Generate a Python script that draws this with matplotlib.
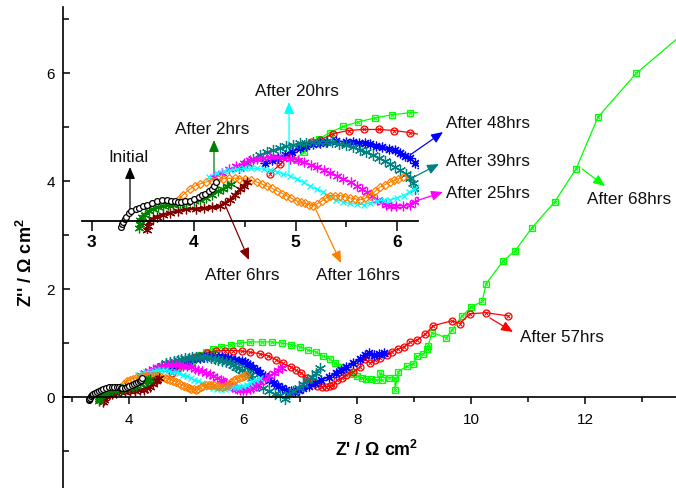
import matplotlib.pyplot as plt

plt.rcParams['font.family'] = ['Liberation Sans', 'DejaVu Sans']
plt.rcParams['mathtext.fontset'] = 'custom'
plt.rcParams['mathtext.rm'] = 'Liberation Sans'
plt.rcParams['mathtext.bf'] = 'Liberation Sans:bold'

# Nyquist data, Z' and -Z'' in ohm cm2
zre_0h = [3.29, 3.30, 3.31, 3.33, 3.34, 3.37, 3.39, 3.43, 3.46, 3.50, 3.54, 3.59, 3.64, 3.69, 3.74,
          3.78, 3.82, 3.85, 3.88, 3.92, 3.96, 4.00, 4.05, 4.08, 4.11, 4.15, 4.18, 4.20, 4.22]
zim_0h = [-0.055, -0.03, -0.007, 0.02, 0.04, 0.07, 0.09, 0.11, 0.12, 0.14, 0.155, 0.17, 0.19, 0.20, 0.20,
          0.19, 0.19, 0.18, 0.18, 0.185, 0.19, 0.21, 0.23, 0.245, 0.26, 0.28, 0.30, 0.33, 0.37]

zre_2h = [3.46, 3.47, 3.47, 3.49, 3.52, 3.56, 3.60, 3.65, 3.70, 3.75, 3.80, 3.87, 3.93, 4.00, 4.06,
          4.12, 4.18, 4.24, 4.29, 4.33, 4.37]
zim_2h = [-0.07, -0.03, 0.01, 0.04, 0.06, 0.09, 0.11, 0.13, 0.14, 0.15, 0.155, 0.16, 0.17, 0.185, 0.20,
          0.22, 0.25, 0.28, 0.30, 0.33, 0.35]

zre_6h = [3.54, 3.55, 3.56, 3.60, 3.64, 3.70, 3.77, 3.85, 3.93, 4.02, 4.10, 4.18, 4.26, 4.31, 4.36,
          4.41, 4.46, 4.49, 4.52]
zim_6h = [-0.09, -0.05, -0.01, 0.02, 0.04, 0.06, 0.075, 0.095, 0.11, 0.115, 0.12, 0.13, 0.14, 0.17, 0.20,
          0.25, 0.30, 0.33, 0.37]

zre_16h = [3.85, 3.90, 3.96, 4.01, 4.06, 4.12, 4.18, 4.24, 4.29, 4.35, 4.41, 4.45, 4.50, 4.56, 4.62,
           4.67, 4.72, 4.77, 4.82, 4.87, 4.91, 4.96, 5.01, 5.05, 5.09, 5.13, 5.17, 5.21, 5.26, 5.30,
           5.34, 5.39, 5.44, 5.49, 5.53, 5.58, 5.63, 5.68, 5.73, 5.78, 5.83, 5.88, 5.93, 5.97, 6.01, 6.05]
zim_16h = [0.20, 0.25, 0.30, 0.33, 0.35, 0.37, 0.38, 0.395, 0.40, 0.405, 0.405, 0.40, 0.40, 0.385, 0.37,
           0.35, 0.33, 0.31, 0.285, 0.26, 0.24, 0.215, 0.19, 0.175, 0.165, 0.155, 0.145, 0.16, 0.19, 0.215,
           0.24, 0.24, 0.24, 0.23, 0.22, 0.21, 0.20, 0.215, 0.24, 0.28, 0.32, 0.345, 0.37, 0.385, 0.40, 0.42]

zre_20h = [4.15, 4.23, 4.30, 4.36, 4.43, 4.49, 4.56, 4.62, 4.69, 4.75, 4.82, 4.88, 4.95, 5.01, 5.08,
           5.14, 5.21, 5.27, 5.34, 5.40, 5.47, 5.53, 5.60, 5.67, 5.73, 5.80, 5.87, 5.93, 6.00, 6.06,
           6.11, 6.16, 6.23, 6.30]
zim_20h = [0.42, 0.46, 0.47, 0.48, 0.49, 0.50, 0.50, 0.50, 0.49, 0.48, 0.465, 0.45, 0.425, 0.40, 0.365,
           0.33, 0.30, 0.27, 0.235, 0.20, 0.18, 0.165, 0.16, 0.155, 0.17, 0.19, 0.195, 0.20, 0.22, 0.24,
           0.27, 0.30, 0.33, 0.36]

zre_25h = [4.20, 4.28, 4.35, 4.42, 4.49, 4.55, 4.62, 4.68, 4.75, 4.82, 4.88, 4.95, 5.02, 5.08, 5.15,
           5.21, 5.28, 5.34, 5.41, 5.47, 5.54, 5.60, 5.65, 5.70, 5.75, 5.80, 5.85, 5.89, 5.94, 5.99,
           6.05, 6.12, 6.17, 6.22, 6.30, 6.38, 6.45, 6.53, 6.60, 6.68]
zim_25h = [0.42, 0.46, 0.49, 0.52, 0.55, 0.58, 0.59, 0.60, 0.605, 0.61, 0.60, 0.59, 0.575, 0.56, 0.535,
           0.51, 0.485, 0.46, 0.43, 0.40, 0.365, 0.33, 0.30, 0.27, 0.235, 0.20, 0.175, 0.155, 0.145, 0.14,
           0.145, 0.155, 0.18, 0.21, 0.28, 0.35, 0.40, 0.45, 0.50, 0.54]

zre_39h = [4.45, 4.52, 4.58, 4.65, 4.72, 4.78, 4.85, 4.91, 4.98, 5.04, 5.10, 5.17, 5.23, 5.30, 5.36,
           5.43, 5.50, 5.56, 5.63, 5.69, 5.76, 5.82, 5.88, 5.93, 5.98, 6.03, 6.08, 6.12, 6.15, 6.17,
           6.25, 6.35, 6.45, 6.55, 6.65, 6.73, 6.80, 6.88, 6.97, 7.05, 7.12, 7.20, 7.28, 7.35]
zim_39h = [0.50, 0.55, 0.59, 0.63, 0.655, 0.67, 0.69, 0.71, 0.725, 0.74, 0.745, 0.75, 0.755, 0.755, 0.75,
           0.735, 0.72, 0.70, 0.675, 0.655, 0.63, 0.60, 0.57, 0.54, 0.51, 0.48, 0.445, 0.41, 0.36, 0.30,
           0.24, 0.17, 0.12, 0.07, 0.04, -0.03, 0.06, 0.12, 0.18, 0.25, 0.32, 0.38, 0.45, 0.54]

zre_48h = [4.70, 4.77, 4.83, 4.90, 4.97, 5.04, 5.10, 5.17, 5.24, 5.31, 5.40, 5.50, 5.56, 5.62, 5.68,
           5.73, 5.79, 5.85, 5.92, 5.98, 6.03, 6.07, 6.12, 6.17, 6.24, 6.30, 6.38, 6.45, 6.53, 6.60,
           6.68, 6.75, 6.83, 6.90, 6.98, 7.05, 7.15, 7.25, 7.37, 7.50, 7.62, 7.72, 7.81, 7.93, 8.05,
           8.13, 8.21, 8.30, 8.38, 8.47]
zim_48h = [0.55, 0.58, 0.60, 0.63, 0.66, 0.69, 0.71, 0.73, 0.74, 0.75, 0.76, 0.755, 0.75, 0.745, 0.74,
           0.73, 0.715, 0.70, 0.685, 0.67, 0.65, 0.62, 0.60, 0.55, 0.50, 0.45, 0.39, 0.33, 0.27, 0.22,
           0.17, 0.14, 0.12, 0.11, 0.14, 0.17, 0.21, 0.26, 0.32, 0.38, 0.45, 0.51, 0.57, 0.64, 0.72,
           0.78, 0.82, 0.79, 0.80, 0.82]

zre_57h = [4.75, 4.85, 4.96, 5.06, 5.15, 5.24, 5.37, 5.52, 5.67, 5.82, 5.97, 6.12, 6.29, 6.44, 6.58,
           6.69, 6.83, 6.92, 7.02, 7.11, 7.20, 7.30, 7.38, 7.45, 7.52, 7.58, 7.64, 7.73, 7.81, 7.93,
           8.05, 8.13, 8.22, 8.31, 8.40, 8.52, 8.60, 8.72, 8.82, 8.92, 9.04, 9.19, 9.33, 9.66, 9.80,
           9.97, 10.26, 10.65]
zim_57h = [0.45, 0.54, 0.64, 0.71, 0.75, 0.77, 0.83, 0.86, 0.87, 0.87, 0.86, 0.84, 0.81, 0.77, 0.70,
           0.63, 0.57, 0.51, 0.45, 0.36, 0.28, 0.22, 0.20, 0.20, 0.21, 0.23, 0.32, 0.36, 0.42, 0.48,
           0.57, 0.72, 0.64, 0.69, 0.74, 0.79, 0.85, 0.90, 0.94, 1.02, 1.06, 1.17, 1.33, 1.42, 1.37,
           1.55, 1.57, 1.51]

zre_68h = [5.00, 5.08, 5.23, 5.34, 5.47, 5.61, 5.78, 5.95, 6.12, 6.32, 6.50, 6.67, 6.83, 6.99, 7.14,
           7.28, 7.40, 7.52, 7.61, 7.70, 7.78, 7.85, 7.92, 8.00, 8.08, 8.16, 8.24, 8.32, 8.43, 8.40,
           8.55, 8.66, 8.66, 8.72, 8.87, 8.98, 9.04, 9.16, 9.22, 9.24, 9.31, 9.56, 9.66, 9.83, 9.99,
           10.19, 10.26, 10.56, 10.77, 11.06, 11.46, 11.84, 12.22, 12.89, 13.95]
zim_68h = [0.58, 0.66, 0.78, 0.84, 0.90, 0.94, 0.98, 1.01, 1.03, 1.03, 1.03, 1.01, 0.98, 0.94, 0.88,
           0.84, 0.77, 0.71, 0.64, 0.57, 0.51, 0.47, 0.43, 0.40, 0.37, 0.35, 0.34, 0.33, 0.32, 0.45,
           0.37, 0.37, 0.14, 0.48, 0.58, 0.62, 0.76, 0.81, 0.90, 0.95, 1.20, 1.11, 1.25, 1.50, 1.67,
           1.78, 2.11, 2.53, 2.72, 3.14, 3.62, 4.24, 5.19, 6.00, 6.95]

# drawing order: latest first so the early spectra sit on top
series = [
    (zre_68h, zim_68h, '#00ff00', dict(marker='s', ms=4.5, mfc='none', lw=0.9), 'x'),
    (zre_57h, zim_57h, '#ff0000', dict(marker='o', ms=5, mfc='none', lw=0.9), 'x'),
    (zre_48h, zim_48h, '#0000ff', dict(marker=(8, 2, 0), ms=7, lw=0.9), None),
    (zre_39h, zim_39h, '#008080', dict(marker=(6, 2, 0), ms=8, lw=0.9), None),
    (zre_25h, zim_25h, '#ff00ff', dict(marker=(6, 2, 0), ms=7, lw=0.9), None),
    (zre_20h, zim_20h, '#00ffff', dict(marker='x', ms=5, lw=0.9), None),
    (zre_16h, zim_16h, '#ff8000', dict(marker='D', ms=4.5, mfc='none', lw=0.8), None),
    (zre_6h, zim_6h, '#800000', dict(marker=(6, 2, 0), ms=7, lw=2.0), None),
    (zre_2h, zim_2h, '#008000', dict(marker=(6, 2, 0), ms=7, lw=2.0), None),
    (zre_0h, zim_0h, 'black', dict(marker='o', ms=4.2, mfc='white', lw=1.0), None),
]


def draw(ax):
    for x, y, c, kw, inner in series:
        ax.plot(x, y, color=c, mec=c, mew=0.9, **kw)
        if inner:
            ax.plot(x, y, ls='none', marker=inner, ms=3, color=c, mew=0.7)


W, H = 676, 488
fig = plt.figure(figsize=(W / 100, H / 100), dpi=100)

# main axes
ax = fig.add_axes([63 / W, 0, 613 / W, 481 / H])
draw(ax)
ax.set_xlim(2.837, 13.59)
ax.set_ylim(-1.676, 7.231)
for s in ['top', 'right']:
    ax.spines[s].set_visible(False)
ax.spines['bottom'].set_position(('data', 0))
for s in ['left', 'bottom']:
    ax.spines[s].set_linewidth(1.2)
ax.set_xticks([4, 6, 8, 10, 12])
ax.set_xticks([3, 5, 7, 9, 11, 13], minor=True)
ax.set_yticks([0, 2, 4, 6])
ax.set_yticks([-1, 1, 3, 5, 7], minor=True)
ax.tick_params(axis='x', which='both', direction='out', width=1.1, labelsize=11, pad=6)
ax.tick_params(axis='x', which='major', length=5)
ax.tick_params(axis='x', which='minor', length=3.5)
ax.tick_params(axis='y', which='both', direction='in', width=1.1, labelsize=11, pad=6)
ax.tick_params(axis='y', which='major', length=5)
ax.tick_params(axis='y', which='minor', length=4)
ax.set_xlabel(r"Z' / Ω cm$\mathbf{^2}$", fontsize=12.8, fontweight='bold', va='center')
ax.xaxis.set_label_coords((377 - 63) / 613, (488 - 450) / 481)
ax.set_ylabel(r"Z'' / Ω cm$\mathbf{^2}$", fontsize=13, fontweight='bold', va='center')
ax.yaxis.set_label_coords((26 - 63) / 613, (488 - 263) / 481)

# inset: magnified high-frequency region
ins = fig.add_axes([82 / W, (H - 233.4) / H, (417.5 - 82) / W, (233.4 - 97) / H])
ins.patch.set_alpha(0)
draw(ins)
ins.set_xlim(2.905, 6.197)
ins.set_ylim(-0.12, -0.12 + 136.4 / 105)
for s in ['top', 'right', 'left']:
    ins.spines[s].set_visible(False)
ins.spines['bottom'].set_position(('data', 0))
ins.spines['bottom'].set_linewidth(1.3)
ins.set_yticks([])
ins.set_xticks([3, 4, 5, 6])
ins.set_xticks([3.5, 4.5, 5.5], minor=True)
ins.tick_params(axis='x', which='both', direction='out', width=1.1, labelsize=12.5, pad=3)
ins.tick_params(axis='x', which='major', length=7)
ins.tick_params(axis='x', which='minor', length=4)
for lab in ins.get_xticklabels():
    lab.set_fontweight('bold')


def px(x, y):
    return (x, H - y)


labels = [
    ('Initial', (128, 157), 'center', 'black', (130, 213), (130, 167)),
    ('After 2hrs', (212, 130), 'center', '#008000', (214, 193), (214, 140)),
    ('After 20hrs', (297, 92), 'center', '#00ffff', (289, 173), (289, 102)),
    ('After 6hrs', (242, 275), 'center', '#800000', (226, 207), (249, 260)),
    ('After 16hrs', (358, 275), 'center', '#ff8000', (315, 208), (341, 263)),
    ('After 48hrs', (446, 124), 'left', '#0000ff', (410, 155), (443, 132)),
    ('After 39hrs', (446, 161), 'left', '#008080', (412, 178), (439, 164)),
    ('After 25hrs', (446, 193), 'left', '#ff00ff', (410, 203), (443, 192)),
    ('After 68hrs', (587, 200), 'left', '#00ff00', (582, 169), (605, 186)),
    ('After 57hrs', (520, 337), 'left', '#ff0000', (490, 318), (513, 332)),
]
for text, pos, ha, c, tail, tip in labels:
    ax.annotate('', xy=px(*tip), xytext=px(*tail), xycoords='figure pixels',
                textcoords='figure pixels',
                arrowprops=dict(arrowstyle='-|>,head_length=0.7,head_width=0.3', color=c,
                                lw=0.9, shrinkA=0, shrinkB=0, mutation_scale=10))
    ax.annotate(text, xy=px(*pos), xycoords='figure pixels', ha=ha, va='center',
                fontsize=12.3, color='#111111', annotation_clip=False)

fig.savefig('out.png', dpi=100)
